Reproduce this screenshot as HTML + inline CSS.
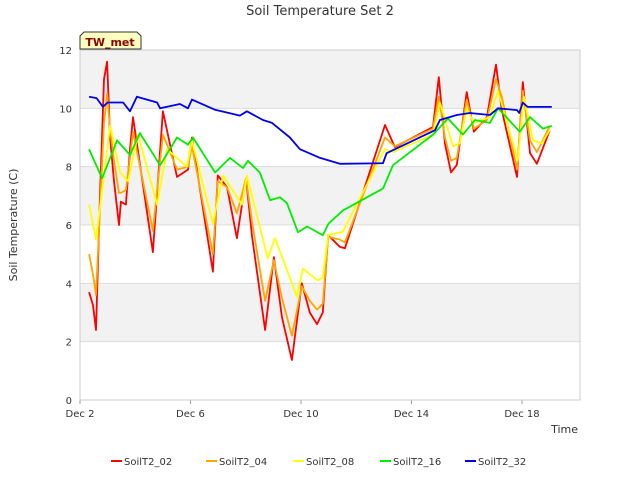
<!DOCTYPE html>
<html><head><meta charset="utf-8"><style>
body{margin:0;background:#fff;font-family:"Liberation Sans","DejaVu Sans",sans-serif}
svg text{font-family:"DejaVu Sans","Liberation Sans",sans-serif}
</style></head><body>
<svg id="c" width="640" height="480" xmlns="http://www.w3.org/2000/svg">
<text x="320" y="15" text-anchor="middle" font-size="13" fill="#333">Soil Temperature Set 2</text>
<text transform="translate(17,225) rotate(-90)" text-anchor="middle" font-size="11" fill="#333">Soil Temperature (C)</text>
<text x="578" y="433" text-anchor="end" font-size="11" fill="#333">Time</text>
<g id="grid"></g><g id="series"></g><g id="axes"></g>
<g>
<path d="M80,49 L80,36 L84,32 L137,32 L141,36 L141,49 Z" fill="#ffffc0" stroke="#333"/>
<text x="110" y="46" text-anchor="middle" font-size="11" font-weight="bold" fill="#8b0000">TW_met</text></g>
<g id="legend"></g>
</svg>
<script>
const series = ["SoilT2_02","SoilT2_04","SoilT2_08","SoilT2_16","SoilT2_32"];
const colors = ["#ff0000","#ffa500","#ffff00","#00ee00","#0000ee"];
const xTicks = [0,4,8,12,16];
const xTickLabels = ["Dec 2","Dec 6","Dec 10","Dec 14","Dec 18"];
const yTicks = [0,2,4,6,8,10,12];
const days02 = [0.33,0.47,0.58,0.72,0.87,0.98,1.09,1.23,1.41,1.48,1.66,1.81,1.92,2.64,3.0,3.51,3.91,4.05,4.81,4.99,5.32,5.68,6.01,6.23,6.7,7.02,7.31,7.67,8.03,8.32,8.58,8.79,8.98,9.41,9.59,11.04,11.4,12.78,12.99,13.21,13.43,13.64,14.0,14.26,14.73,15.06,15.27,15.82,16.03,16.29,16.54,17.01];
const vals02 = [3.7,3.25,2.4,6.9,11,11.6,9,7.5,6.0,6.8,6.7,8.6,9.7,5.07,9.9,7.65,7.9,9.0,4.4,7.7,7.3,5.55,7.6,5.6,2.4,4.9,2.85,1.37,4.0,3.0,2.6,3.0,5.65,5.25,5.2,9.43,8.67,9.36,11.07,8.8,7.8,8.06,10.56,9.2,9.7,11.5,9.94,7.65,10.9,8.47,8.1,9.26];
const days04 = days02;
const vals04 = [5.0,4.3,3.6,6.5,9.5,10.5,9.3,8.2,7.1,7.1,7.2,8.3,9.2,5.8,9.1,7.9,8.0,8.7,5.0,7.5,7.3,6.4,7.6,6.1,3.4,4.8,3.5,2.2,3.9,3.4,3.1,3.3,5.6,5.5,5.4,9.0,8.7,9.3,10.4,9.0,8.2,8.3,10.3,9.3,9.6,11.0,10.4,7.9,10.6,8.9,8.5,9.4];
const days08 = [0.33,0.58,1.09,1.45,1.74,2.1,2.79,3.15,3.87,4.05,4.81,5.18,5.86,6.04,6.8,7.06,7.85,8.07,8.61,8.79,8.98,9.41,9.5,11.04,11.33,12.78,13.03,13.5,13.75,14.0,14.26,14.84,15.13,15.85,16.07,16.4,16.72,17.01];
const vals08 = [6.7,5.5,9.4,7.8,7.5,9.1,6.7,8.6,8.0,8.9,6.05,7.7,6.7,7.7,4.85,5.55,3.55,4.5,4.1,4.2,5.65,5.75,5.75,8.6,8.5,9.1,10.2,8.7,8.8,10.0,9.5,9.7,10.6,8.2,10.4,8.9,8.8,9.26];
const days16 = [0.33,0.8,1.34,1.81,2.17,2.9,3.51,3.91,4.09,4.89,5.43,5.9,6.08,6.51,6.88,7.24,7.49,7.89,8.22,8.79,9.0,9.52,10.97,11.33,12.78,13.32,13.86,14.3,14.84,15.13,15.92,16.29,16.76,17.08];
const vals16 = [8.6,7.6,8.9,8.4,9.15,8.05,9.0,8.75,9.0,7.8,8.3,7.95,8.2,7.8,6.85,6.95,6.75,5.75,5.95,5.65,6.05,6.5,7.25,8.05,9.1,9.65,9.1,9.6,9.5,10.0,9.2,9.7,9.3,9.4];
const days32 = [0.33,0.6,0.83,1.0,1.56,1.81,2.06,2.79,2.9,3.62,3.91,4.05,4.89,5.79,6.04,6.62,6.95,7.6,7.96,8.69,9.41,10.97,11.1,12.85,13.03,13.64,14.11,14.84,15.13,15.82,15.9,16.03,16.2,17.08];
const vals32 = [10.4,10.35,10.05,10.2,10.2,9.9,10.4,10.2,10.0,10.15,10.0,10.3,9.95,9.75,9.9,9.6,9.5,9.0,8.6,8.3,8.1,8.12,8.46,9.25,9.6,9.77,9.84,9.77,10.0,9.94,9.84,10.2,10.05,10.05];
const allDays=[days02,days04,days08,days16,days32], allVals=[vals02,vals04,vals08,vals16,vals32];
const X0=80,X1=580,Y0=400,Y1=50,DMAX=18.1,VMAX=12;
const xs=d=>X0+d*(X1-X0)/DMAX, ys=v=>Y0-v*(Y0-Y1)/VMAX;
const NS="http://www.w3.org/2000/svg";
function mk(t,a,p){const e=document.createElementNS(NS,t);for(const k in a)e.setAttribute(k,a[k]);p.appendChild(e);return e;}
const grid=document.getElementById('grid');
for(let i=0;i<yTicks.length-1;i++){
  if(i%2===1){const r=mk('rect',{x:X0,y:ys(yTicks[i+1]),width:X1-X0,height:ys(yTicks[i])-ys(yTicks[i+1]),fill:'#f2f2f2'},grid);
  
  }
}
yTicks.forEach(v=>{const l=mk('line',{x1:X0,x2:X1,y1:ys(v),y2:ys(v),stroke:'#dcdcdc'},grid);


const t=mk('text',{x:X0-8,y:ys(v)+4,'text-anchor':'end','font-size':'10',fill:'#333'},grid);t.textContent=v;

});
xTicks.forEach((d,i)=>{const l=mk('line',{x1:xs(d),x2:xs(d),y1:Y0,y2:Y0+4,stroke:'#999'},grid);


const t=mk('text',{x:xs(d),y:Y0+17,'text-anchor':'middle','font-size':'10',fill:'#333'},grid);t.textContent=xTickLabels[i];

});
const ax=document.getElementById('axes');
const fr=mk('rect',{x:X0,y:Y1,width:X1-X0,height:Y0-Y1,fill:'none',stroke:'#ccc'},ax);


const sg=document.getElementById('series');
allDays.forEach((ds,i)=>{const pts=ds.map((d,j)=>xs(d).toFixed(1)+','+ys(allVals[i][j]).toFixed(1)).join(' ');
const p=mk('polyline',{points:pts,fill:'none',stroke:colors[i],'stroke-width':'1.8','stroke-linejoin':'round'},sg);

});
const lg=document.getElementById('legend');
const lx=[111,206,293,380,465];
series.forEach((s,i)=>{const g=mk('g',{},lg);


mk('line',{x1:lx[i],x2:lx[i]+11,y1:461,y2:461,stroke:colors[i],'stroke-width':'2'},g);
const t=mk('text',{x:lx[i]+13,y:465,'font-size':'10',fill:'#333'},g);t.textContent=s;});
</script>
</body></html>
